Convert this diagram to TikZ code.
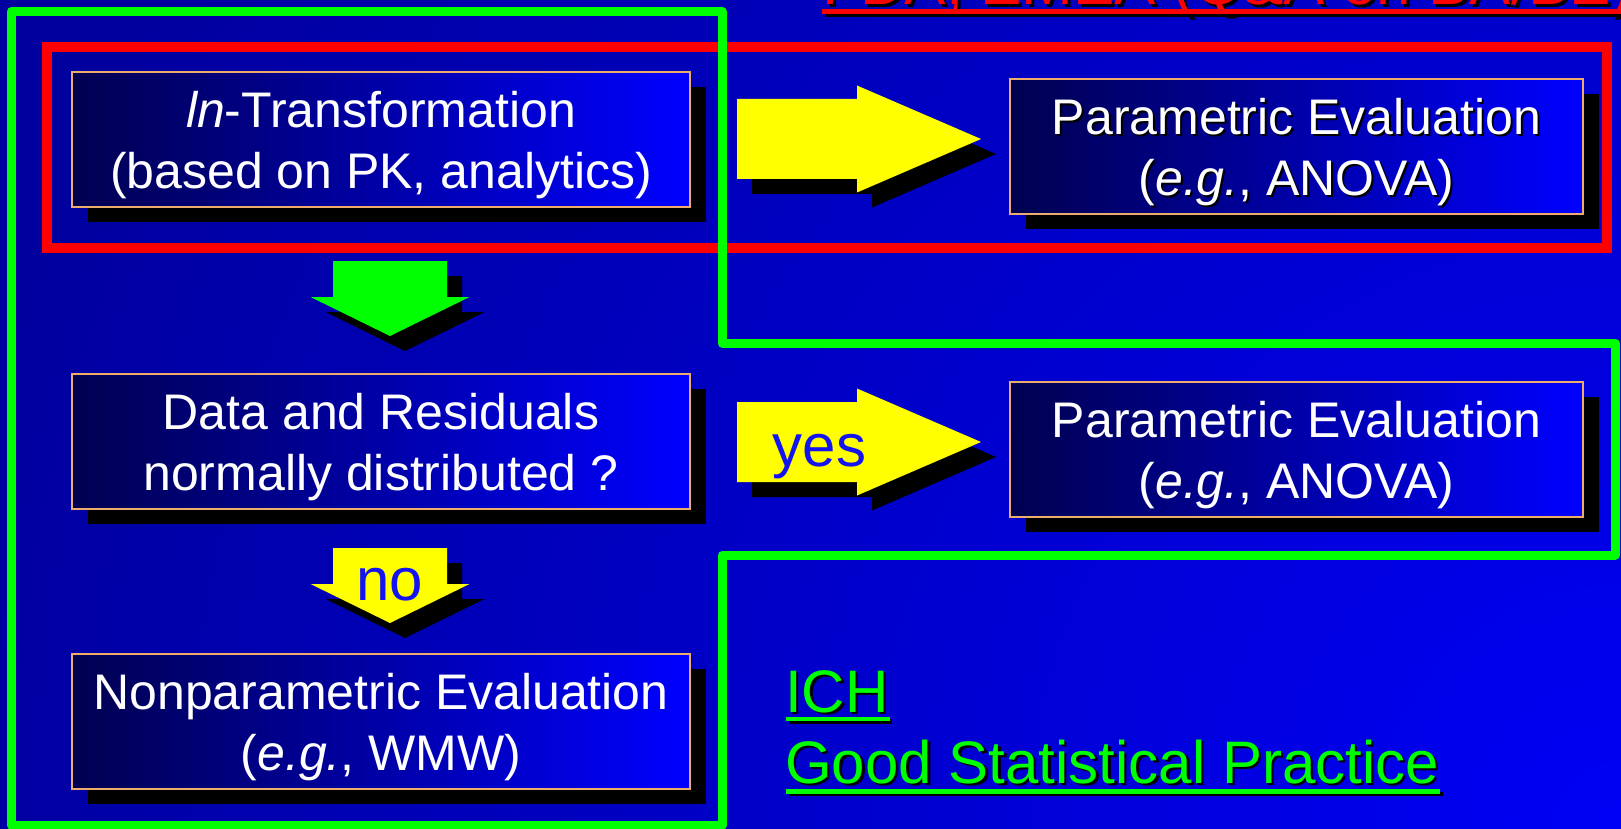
\documentclass[tikz,border=0pt]{standalone}
\usepackage{fontspec}
\setmainfont{Liberation Sans}
\usetikzlibrary{calc}
\definecolor{bgdark}{RGB}{0,0,158}
\definecolor{bglight}{RGB}{0,0,245}
\definecolor{boxdark}{RGB}{0,0,80}
\definecolor{boxlight}{RGB}{0,0,255}
\definecolor{boxedge}{RGB}{238,172,108}
\definecolor{brightred}{RGB}{255,0,0}
\definecolor{brightgreen}{RGB}{0,255,0}
\definecolor{brightyellow}{RGB}{255,255,0}
\definecolor{textblue}{RGB}{20,20,240}
\pgfdeclarelayer{bglayer}
\pgfdeclarelayer{shadowlayer}
\pgfsetlayers{bglayer,shadowlayer,main}
\tikzset{
  flowbox/.style={draw=boxedge, line width=2.5pt, outer sep=0pt, left color=boxdark, right color=boxlight,
    text=white, align=center, inner sep=0pt, text depth=0pt, font=\fontsize{50}{61}\selectfont},
  widebox/.style={minimum width=618pt, minimum height=135pt},
  narrowbox/.style={minimum width=573pt, minimum height=135pt},
  boxtext/.style={align=center, inner sep=0pt, text depth=0pt, font=\fontsize{50}{61}\selectfont},
  arrowlabel/.style={text=textblue, inner sep=0pt, anchor=base, font=\fontsize{60}{72}\selectfont},
  linktext/.style={inner sep=0pt, anchor=base west, font=\fontsize{60}{72}\selectfont},
  titletext/.style={inner sep=0pt, anchor=base west, font=\fontsize{62}{74}\selectfont},
  pics/rightblock/.style={code={\fill[#1] (0,-40) -- (120,-40) -- (120,-53.5) -- (244,0) -- (120,53.5) -- (120,40) -- (0,40) -- cycle;}},
  pics/downblock/.style={code={\fill[#1] (-57,0) -- (57,0) -- (57,36) -- (79.5,36) -- (0,75) -- (-79.5,36) -- (-57,36) -- cycle;}},
}
\begin{document}
\begin{tikzpicture}[x=1pt,y=-1pt]
\useasboundingbox (0,0) rectangle (1621,829);
\begin{pgfonlayer}{bglayer}
  \fill[bgdark] (0,0) rectangle (1621,829);
  \begin{scope}
    \clip (0,0) rectangle (1621,829);
    \shade[inner color=bglight, outer color=bgdark] (1621,829) circle [radius=1700pt];
  \end{scope}
\end{pgfonlayer}

% red frame
\draw[brightred, line width=10pt] (47,47) rectangle (1607,248);

% title (cut off at top)
\begin{scope}
  \clip (0,0) rectangle (1621,829);
  \node[titletext, text=black] (titleshadow) at (825,8) {FDA, EMEA (Q\&A on BA/BE)};
  \node[titletext, text=brightred] (title) at (822,5) {FDA, EMEA (Q\&A on BA/BE)};
\end{scope}
\draw[black, line width=4.5pt] ([shift={(3,9.5)}]title.base west) -- ([shift={(8,9.5)}]title.base east);
\draw[brightred, line width=4.5pt] ([shift={(0,6.5)}]title.base west) -- ([shift={(5,6.5)}]title.base east);

% boxes
\node[flowbox, widebox] (b1) at (381,139.5) {\textit{ln}-Transformation\\(based on PK, analytics)};
\node[flowbox, narrowbox] (b2) at (1296.5,146.5) {};
\node[boxtext, text=black] (b2s) at ($(b2.center)+(2,2)$) {Parametric Evaluation\\(\textit{e.g.}, ANOVA)};
\node[boxtext, text=white] (b2t) at (b2.center) {Parametric Evaluation\\(\textit{e.g.}, ANOVA)};
\node[flowbox, widebox] (b3) at (381,441.5) {Data and Residuals\\normally distributed ?};
\node[flowbox, narrowbox] (b4) at (1296.5,449.5) {Parametric Evaluation\\(\textit{e.g.}, ANOVA)};
\node[flowbox, widebox] (b5) at (381,721.5) {Nonparametric Evaluation\\(\textit{e.g.}, WMW)};

\begin{pgfonlayer}{shadowlayer}
  \foreach \b in {b1,b2,b3,b4,b5}
    \fill[black] ([shift={(16,15)}]\b.north west) rectangle ([shift={(16,15)}]\b.south east);
\end{pgfonlayer}

% block arrows
\pic at (752,154) {rightblock=black};
\pic at (737,139) {rightblock=brightyellow};
\pic at (752,457) {rightblock=black};
\pic at (737,442) {rightblock=brightyellow};
\pic at (405,276) {downblock=black};
\pic at (390,261) {downblock=brightgreen};
\pic at (405,563) {downblock=black};
\pic at (390,548) {downblock=brightyellow};

\node[arrowlabel] (yes) at (819.5,466) {yes};
\node[arrowlabel] (no) at (390,600) {no};

% links
\node[linktext, text=black] (ichs) at (787.5,714.5) {ICH};
\node[linktext, text=brightgreen] (ich) at (785,712) {ICH};
\node[linktext, text=black] (gsps) at (787.5,785.5) {Good Statistical Practice};
\node[linktext, text=brightgreen] (gsp) at (785,783) {Good Statistical Practice};
\draw[black, line width=4.5pt] ([shift={(3.5,9.5)}]ich.base west) -- ([shift={(3.5,9.5)}]ich.base east);
\draw[brightgreen, line width=4.5pt] ([shift={(1,7)}]ich.base west) -- ([shift={(1,7)}]ich.base east);
\draw[black, line width=4.5pt] ([shift={(3.5,11)}]gsp.base west) -- ([shift={(3.5,11)}]gsp.base east);
\draw[brightgreen, line width=4.5pt] ([shift={(1,8.5)}]gsp.base west) -- ([shift={(1,8.5)}]gsp.base east);

% green frame
\draw[brightgreen, line width=9pt, line join=round]
  (11.5,11.5) -- (722,11.5) -- (722,343) -- (1615,343) -- (1615,555) -- (722,555) -- (722,825) -- (11.5,825) -- cycle;
\end{tikzpicture}
\end{document}
